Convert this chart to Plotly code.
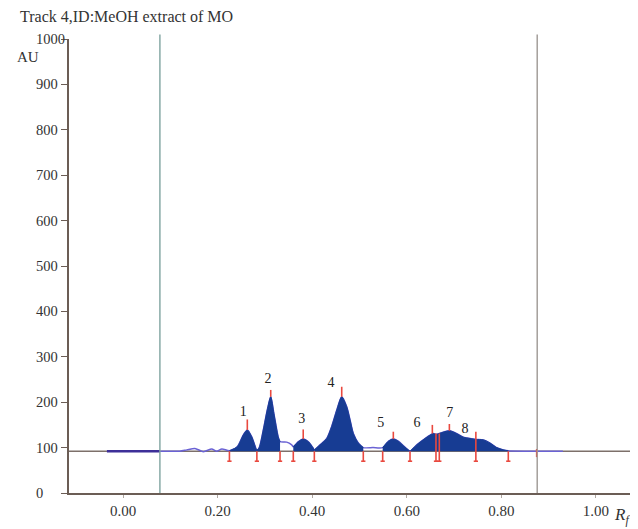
import plotly.graph_objects as go

# ---- data ----
signal_rf = [-0.034, 0.078, 0.12, 0.135, 0.152, 0.170, 0.1875, 0.198, 0.209, 0.225,
             0.2416, 0.2544, 0.2628, 0.272, 0.281, 0.283, 0.288, 0.2966, 0.305, 0.3123,
             0.319, 0.328, 0.332, 0.346, 0.3567, 0.36, 0.3706, 0.381, 0.392, 0.402,
             0.4045, 0.4165, 0.4307, 0.441, 0.452, 0.4624, 0.473, 0.48, 0.487, 0.4975,
             0.508, 0.5285, 0.549, 0.561, 0.5715, 0.582, 0.596, 0.6068, 0.621, 0.6385,
             0.656, 0.6617, 0.6687, 0.677, 0.691, 0.705, 0.7195, 0.7336, 0.746, 0.762,
             0.776, 0.79, 0.804, 0.8146, 0.85, 0.93]
signal_au = [92, 92, 92, 95, 98, 91, 97, 92, 97, 93,
             102, 128, 139, 124, 98, 94, 100, 139, 183, 212,
             175, 124, 113, 112, 106, 102, 113, 119, 113, 99,
             95, 106, 120, 146, 183, 212, 190, 161, 131, 110,
             100, 100, 100, 114, 119, 114, 101, 92, 106, 120,
             131, 129, 131, 134, 137, 131, 123, 120, 118, 117,
             110, 100, 95, 93, 92, 92]

baseline_au = 92
axis_rf = [-0.1142, 1.0719]

# filled peak regions (start, end) in Rf
fill_start = [0.225, 0.283, 0.36, 0.4045, 0.549, 0.6068]
fill_end = [0.283, 0.332, 0.4045, 0.508, 0.6068, 0.8146]

# integration boundaries (red lower markers)
boundary_rf = [0.225, 0.283, 0.332, 0.36, 0.4045, 0.508, 0.549, 0.6068, 0.6617, 0.6687, 0.746, 0.8146]
boundary_top = [92, 92, 92, 92, 92, 92, 92, 92, 131, 131, 135, 92]
boundary_bottom = 70

# apex markers
apex_rf = [0.2628, 0.3123, 0.381, 0.4624, 0.5715, 0.654, 0.690, 0.8746]
apex_lo = [139, 212, 119, 212, 119, 131, 137, 79]
apex_hi = [162, 227, 140, 234, 135, 150, 152, 97]

# peak labels
peak_labels = ["1", "2", "3", "4", "5", "6", "7", "8"]
label_rf = [0.254, 0.3066, 0.378, 0.44, 0.545, 0.6216, 0.691, 0.723]
label_au = [178, 249, 163, 242, 152, 154, 176, 139]

# application window lines
window_rf = [0.078, 0.8757]
window_colors = ["#7fa3a0", "#9d9893"]

x_ticks = [0.0, 0.2, 0.4, 0.6, 0.8, 1.0]
x_ticktext = ["0.00", "0.20", "0.40", "0.60", "0.80", "1.00"]
y_ticks = [0, 100, 200, 300, 400, 500, 600, 700, 800, 900, 1000]

SERIF = "Liberation Serif"
NAVY = "#173c93"
RED = "#e9493f"
PURPLE = "#6a62d4"

fig = go.Figure()

# baseline
fig.add_trace(go.Scatter(x=axis_rf, y=[baseline_au, baseline_au], mode="lines",
                         line=dict(color="#7d706a", width=1.6), hoverinfo="skip", showlegend=False))

# signal line
fig.add_trace(go.Scatter(x=signal_rf, y=signal_au, mode="lines",
                         line=dict(color=PURPLE, width=1.5, shape="spline", smoothing=0.7),
                         hoverinfo="skip", showlegend=False))
# darker start segment
fig.add_trace(go.Scatter(x=signal_rf[:2], y=signal_au[:2], mode="lines",
                         line=dict(color="#3d2f98", width=2.6), hoverinfo="skip", showlegend=False))

# filled peaks
for s, e in zip(fill_start, fill_end):
    xs = [x for x in signal_rf if s <= x <= e]
    ys = [y for x, y in zip(signal_rf, signal_au) if s <= x <= e]
    fig.add_trace(go.Scatter(x=xs, y=[baseline_au] * len(xs), mode="lines",
                             line=dict(width=0, color=NAVY), hoverinfo="skip", showlegend=False))
    fig.add_trace(go.Scatter(x=xs, y=ys, mode="lines", fill="tonexty", fillcolor=NAVY,
                             line=dict(color=NAVY, width=1, shape="spline", smoothing=0.7),
                             hoverinfo="skip", showlegend=False))

# red boundary markers (inverted T)
foot = 0.0045
bx, by = [], []
for r, t in zip(boundary_rf, boundary_top):
    bx += [r, r, None, r - foot, r + foot, None]
    by += [t, boundary_bottom, None, boundary_bottom, boundary_bottom, None]
fig.add_trace(go.Scatter(x=bx, y=by, mode="lines", line=dict(color=RED, width=1.6),
                         hoverinfo="skip", showlegend=False))

# red apex markers
ax_, ay_ = [], []
for r, lo, hi in zip(apex_rf, apex_lo, apex_hi):
    ax_ += [r, r, None]
    ay_ += [lo, hi, None]
fig.add_trace(go.Scatter(x=ax_, y=ay_, mode="lines", line=dict(color=RED, width=1.6),
                         hoverinfo="skip", showlegend=False))

# peak labels
fig.add_trace(go.Scatter(x=label_rf, y=label_au, mode="text", text=peak_labels,
                         textfont=dict(family=SERIF, size=14, color="#222"),
                         hoverinfo="skip", showlegend=False))

# window vertical lines
for r, c in zip(window_rf, window_colors):
    fig.add_shape(type="line", xref="x", yref="paper", x0=r, x1=r, y0=0, y1=1.01,
                  line=dict(color=c, width=1.4))

annotations = []
for v in y_ticks:
    annotations.append(dict(x=-0.0624, xref="paper", y=v, yref="y", text=str(v),
                            xanchor="left", yanchor="middle", showarrow=False,
                            font=dict(family=SERIF, size=14.5, color="#333")))
annotations.append(dict(x=-0.0909, xref="paper", y=1.0485, yref="paper",
                        text="Track 4,ID:MeOH extract of MO", xanchor="left", yanchor="middle",
                        showarrow=False, font=dict(family=SERIF, size=16, color="#333")))
annotations.append(dict(x=-0.0963, xref="paper", y=0.96, yref="paper", text="AU",
                        xanchor="left", yanchor="middle", showarrow=False,
                        font=dict(family=SERIF, size=15, color="#333")))
annotations.append(dict(x=0.968, xref="paper", y=-0.05, yref="paper",
                        text="<i>R</i><sub><i>f</i></sub>", xanchor="left", yanchor="middle",
                        showarrow=False, font=dict(family=SERIF, size=17, color="#333")))

# page has an 8px body margin, so the figure is sized/offset to compensate
fig.update_layout(
    width=630, height=521,
    margin=dict(l=61, r=8, t=31, b=36),
    paper_bgcolor="white", plot_bgcolor="white",
    showlegend=False,
    annotations=annotations,
    xaxis=dict(range=axis_rf, tickvals=x_ticks, ticktext=x_ticktext,
               showgrid=False, zeroline=False, showline=True, linecolor="#6b5d55", linewidth=1.6,
               ticks="outside", ticklen=3, tickcolor="#b0a8a2",
               tickfont=dict(family=SERIF, size=15, color="#333")),
    yaxis=dict(range=[0, 1000], tickvals=y_ticks, showticklabels=False,
               showgrid=False, zeroline=False, showline=True, linecolor="#6b5d55", linewidth=1.6,
               ticks="outside", ticklen=6, tickcolor="#6b5d55"),
)

fig.write_html("out.html")
